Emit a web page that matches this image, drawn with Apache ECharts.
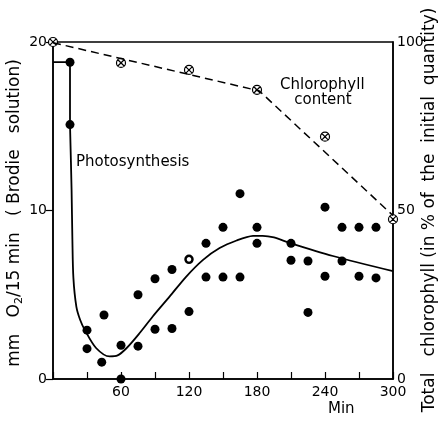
<!DOCTYPE html>
<html>
<head>
<meta charset="utf-8">
<script src="https://cdn.jsdelivr.net/npm/echarts@6/dist/echarts.min.js"></script>
<style>
  html, body { margin: 0; padding: 0; background: #fff; }
  #chart { width: 441px; height: 421px; }
</style>
</head>
<body>
<div id="chart"></div>
<script>
// photosynthesis measurements (min, mm O2 / 15 min)
var dotMin  = [15, 15, 30, 30, 45, 43, 60, 60, 75, 75, 90, 90, 105, 105, 120, 135, 135, 150, 150, 165, 165, 180, 180, 210, 210, 225, 225, 240, 240, 255, 255, 270, 270, 285, 285];
var dotRate = [18.8, 15.1, 2.9, 1.8, 3.8, 1.0, 2.0, 0, 5.0, 1.95, 5.95, 2.95, 6.5, 3.0, 4.0, 8.05, 6.05, 9.0, 6.05, 11.0, 6.05, 9.0, 8.05, 8.05, 7.05, 7.0, 3.95, 10.2, 6.1, 9.0, 7.0, 9.0, 6.1, 9.0, 6.0];
var openMin  = [120];
var openRate = [7.1];

// drawn photosynthesis curve: the step at the start, then the smooth part
var stepMin  = [0, 15, 15];
var stepRate = [18.8, 18.8, 15.1];
var curveMin  = [15, 16.4, 17.1, 18, 20.6, 24, 28, 38, 50, 57, 65, 76.5, 88, 103, 117.6, 132.4, 147, 162, 176.5, 185, 195, 210, 247, 300];
var curveRate = [15.1, 11.2, 8.3, 6.0, 4.3, 3.5, 2.92, 1.84, 1.34, 1.4, 1.84, 2.73, 3.71, 4.9, 6.08, 7.07, 7.77, 8.22, 8.49, 8.5, 8.4, 8.05, 7.3, 6.4];

// chlorophyll content (% of initial)
var chlMin = [0, 60, 120, 180, 240, 300];
var chlPct = [100, 93.8, 91.7, 85.8, 71.9, 47.4];
var chlTrendMin = [0, 182, 300];
var chlTrendPct = [99.8, 85.5, 48.5];

var xLabels = [60, 120, 180, 240, 300];

function pairs(xs, ys){
  var out = [];
  for(var i=0; i<xs.length; i++){
    out.push([xs[i], ys[i]]);
  }
  return out;
}

var font = 'DejaVu Sans';
var crossSymbol = 'path://M0,-10 A10,10 0 1,1 0,10 A10,10 0 1,1 0,-10 Z M-7,-7 L7,7 M-7,7 L7,-7';

var chart = echarts.init(document.getElementById('chart'));
var option = {
  animation: false,
  backgroundColor: '#fff',
  textStyle: { fontFamily: font, color: '#000' },
  grid: {
    left: 53, right: 48, top: 42, bottom: 42,
    show: true, borderColor: '#000', borderWidth: 1.5
  },
  xAxis: {
    type: 'value', min: 0, max: 300, interval: 30,
    axisLine: { lineStyle: { color: '#000', width: 1.5 } },
    axisTick: { inside: true, length: 7, lineStyle: { color: '#000', width: 1.2 } },
    axisLabel: {
      color: '#000', fontSize: 14, fontFamily: font, margin: 6,
      formatter: function(v){ return xLabels.indexOf(v) > -1 ? String(v) : ''; }
    },
    splitLine: { show: false }
  },
  yAxis: [{
    type: 'value', min: 0, max: 20, interval: 10,
    axisLine: { show: true, lineStyle: { color: '#000', width: 1.5 } },
    axisTick: { show: true, length: 7, lineStyle: { color: '#000', width: 1.2 } },
    axisLabel: { color: '#000', fontSize: 14, fontFamily: font, margin: 6 },
    splitLine: { show: false }
  }, {
    type: 'value', min: 0, max: 100, interval: 50, position: 'right',
    axisLine: { show: true, lineStyle: { color: '#000', width: 1.5 } },
    axisTick: { show: false },
    axisLabel: { color: '#000', fontSize: 14, fontFamily: font, margin: 4 },
    splitLine: { show: false }
  }],
  graphic: [{
    type: 'text', left: 76, top: 155,
    style: { text: 'Photosynthesis', font: '15px "DejaVu Sans"', fill: '#000' }
  }, {
    type: 'text', left: 280, top: 78,
    style: { text: 'Chlorophyll\n   content', font: '15px "DejaVu Sans"', fill: '#000', lineHeight: 15 }
  }, {
    type: 'text', left: 328, top: 402,
    style: { text: 'Min', font: '15px "DejaVu Sans"', fill: '#000' }
  }, {
    type: 'text', x: 15, y: 213, rotation: Math.PI / 2,
    style: {
      text: 'mm   O{s|2}/15 min   ( Brodie   solution)',
      font: '17px "DejaVu Sans"', fill: '#000', align: 'center', verticalAlign: 'middle',
      rich: { s: { fontSize: 11, fontFamily: font, verticalAlign: 'bottom', padding: [9, 0, 0, 0] } }
    }
  }, {
    type: 'text', x: 430, y: 210, rotation: Math.PI / 2,
    style: {
      text: 'Total   chlorophyll (in % of  the  initial  quantity)',
      font: '17px "DejaVu Sans"', fill: '#000', align: 'center', verticalAlign: 'middle'
    }
  }],
  series: [{
    type: 'line', name: 'step', yAxisIndex: 0,
    data: pairs(stepMin, stepRate),
    showSymbol: false, smooth: false,
    lineStyle: { color: '#000', width: 1.8 }
  }, {
    type: 'line', name: 'curve', yAxisIndex: 0,
    data: pairs(curveMin, curveRate),
    showSymbol: false, smooth: 0.3,
    lineStyle: { color: '#000', width: 1.8 }
  }, {
    type: 'scatter', name: 'rate', yAxisIndex: 0,
    data: pairs(dotMin, dotRate),
    symbol: 'circle', symbolSize: 9, clip: false,
    itemStyle: { color: '#000', opacity: 1 }
  }, {
    type: 'scatter', name: 'rate-open', yAxisIndex: 0,
    data: pairs(openMin, openRate),
    symbol: 'circle', symbolSize: 7, clip: false,
    itemStyle: { color: '#fff', borderColor: '#000', borderWidth: 2.5, opacity: 1 }
  }, {
    type: 'line', name: 'chlorophyll trend', yAxisIndex: 1,
    data: pairs(chlTrendMin, chlTrendPct),
    showSymbol: false,
    lineStyle: { color: '#000', width: 1.5, type: [8, 5] }
  }, {
    type: 'scatter', name: 'chlorophyll', yAxisIndex: 1,
    data: pairs(chlMin, chlPct),
    symbol: crossSymbol, symbolSize: 9, clip: false,
    itemStyle: { color: '#fff', borderColor: '#000', borderWidth: 1.2, opacity: 1 }
  }]
};
chart.setOption(option);
</script>
</body>
</html>
